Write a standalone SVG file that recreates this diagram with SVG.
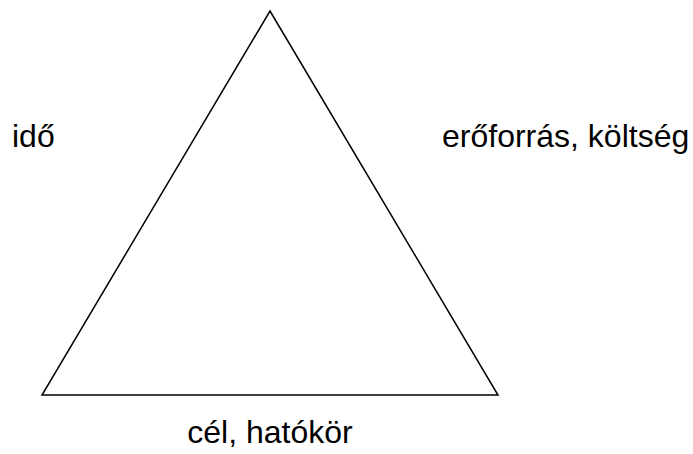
<svg xmlns="http://www.w3.org/2000/svg" width="693" height="454" viewBox="0 0 693 454">
<style>
.lbl{font-family:"Liberation Sans",Arial,sans-serif;font-size:32px;fill:#000}
.edge{fill:none;stroke:#000;stroke-width:1.5}
</style>
<rect width="693" height="454" fill="#fff"/>
<g id="connectors">
<polygon class="edge" points="270,11 498,395 42,395"/>
</g>
<g id="ido"><text class="lbl" x="12" y="147">idő</text></g>
<g id="eroforras"><text class="lbl" x="442" y="147">erőforrás, költség</text></g>
<g id="cel"><text class="lbl" x="270" y="443" text-anchor="middle">cél, hatókör</text></g>
</svg>
